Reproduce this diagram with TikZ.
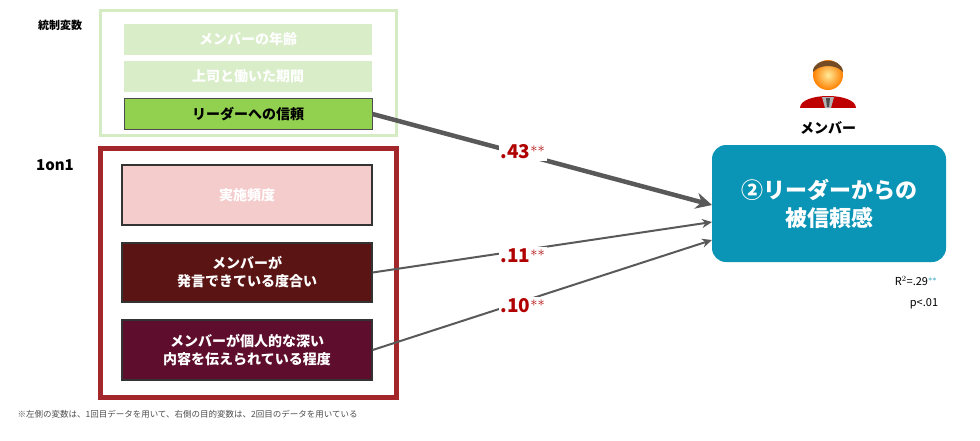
\documentclass[tikz,border=0pt]{standalone}
\usepackage{fontspec}
\setmainfont{Noto Sans CJK JP}
\usetikzlibrary{arrows.meta}
\definecolor{lg}{HTML}{D8EDC8}
\definecolor{lgb}{HTML}{D5EBC3}
\definecolor{gg}{HTML}{92D050}
\definecolor{rb}{HTML}{A3262A}
\definecolor{pk}{HTML}{F4CCCC}
\definecolor{m1}{HTML}{5A1414}
\definecolor{m2}{HTML}{5E0D2C}
\definecolor{tb}{HTML}{0A94B6}
\definecolor{nr}{HTML}{B00000}
\definecolor{ln}{HTML}{595959}
\begin{document}
\begin{tikzpicture}[x=1pt,y=-1pt,
 cbox/.style={fill=lg,text=white,font=\bfseries\fontsize{14}{16}\selectfont},
 obox/.style={draw=black!80,line width=1.2pt,text=white,align=center,font=\bfseries\fontsize{14}{18}\selectfont},
 num/.style={fill=white,text=nr,font=\bfseries\fontsize{19}{20}\selectfont,inner sep=2pt},
 conn/.style={draw=ln,line width=2pt,-{Stealth[length=10pt,width=9pt]}}]
\useasboundingbox (0,0) rectangle (980,440);
\draw[lgb,line width=3pt] (100,10) rectangle (396,135);
\node[cbox,minimum width=248,minimum height=31] (a1) at (248,39.5) {メンバーの年齢};
\node[cbox,minimum width=248,minimum height=31] (a2) at (248,76) {上司と働いた期間};
\node[fill=gg,draw=black!70,line width=1pt,minimum width=248,minimum height=31,font=\bfseries\fontsize{14}{16}\selectfont] (a3) at (248,114) {リーダーへの信頼};
\node[font=\bfseries\fontsize{11}{12}\selectfont] (t1) at (60,25) {統制変数};
\node[font=\bfseries\fontsize{15}{16}\selectfont] (t2) at (55,165) {1on1};
\draw[rb,line width=5pt] (100,148) rectangle (396,397);
\node[obox,fill=pk,minimum width=250,minimum height=60] (b1) at (247,195) {実施頻度};
\node[obox,fill=m1,minimum width=250,minimum height=59] (b2) at (247,272.5) {メンバーが\\発言できている度合い};
\node[obox,fill=m2,minimum width=250,minimum height=60] (b3) at (247,350) {メンバーが個人的な深い\\内容を伝えられている程度};
\node[fill=tb,rounded corners=14pt,minimum width=234,minimum height=117,text=white,align=center,font=\bfseries\fontsize{22}{28}\selectfont] (tg) at (829,203.5) {②リーダーからの\\被信頼感};
\coordinate (e1) at (712,205);
\coordinate (e2) at (712,222);
\coordinate (e3) at (712,240);
\draw[conn,line width=4.5pt,-{Stealth[length=16pt,width=16pt]}] (a3.east) -- (e1);
\draw[conn] (b2.east) -- (e2);
\draw[conn] (b3.east) -- (e3);
\node[num] (n1) at (523,152) {.43$^{**}$};
\node[num] (n2) at (523,256) {.11$^{**}$};
\node[num] (n3) at (523,306) {.10$^{**}$};
% person icon
\fill[red!75!black] (800,108) .. controls (800,92) and (856,92) .. (856,108) -- cycle;
\fill[gray!60] (822,97) -- (834,97) -- (831,108) -- (825,108) -- cycle;
\fill[black!70] (826,98) -- (830,98) -- (829,107) -- (827,107) -- cycle;
\shade[inner color=yellow!60!orange!40,outer color=orange] (828,75) circle (15);
\fill[brown!60!black] (813,72) .. controls (812,58) and (842,56) .. (843,72) .. controls (836,64) and (820,64) .. (813,72) -- cycle;
\node[font=\bfseries\fontsize{14}{16}\selectfont] (pm) at (828,128) {メンバー};
\node[font=\fontsize{11}{12}\selectfont] (r2) at (916,281) {\textit{R}$^{2}$=.29\textcolor{tb}{$^{**}$}};
\node[font=\fontsize{11}{12}\selectfont] (pv) at (924,304) {\textit{p}<.01};
\node[anchor=west,text=black!70,font=\fontsize{8.5}{10}\selectfont] (fn) at (14,414) {※左側の変数は、1回目データを用いて、右側の目的変数は、2回目のデータを用いている};
\end{tikzpicture}
\end{document}
